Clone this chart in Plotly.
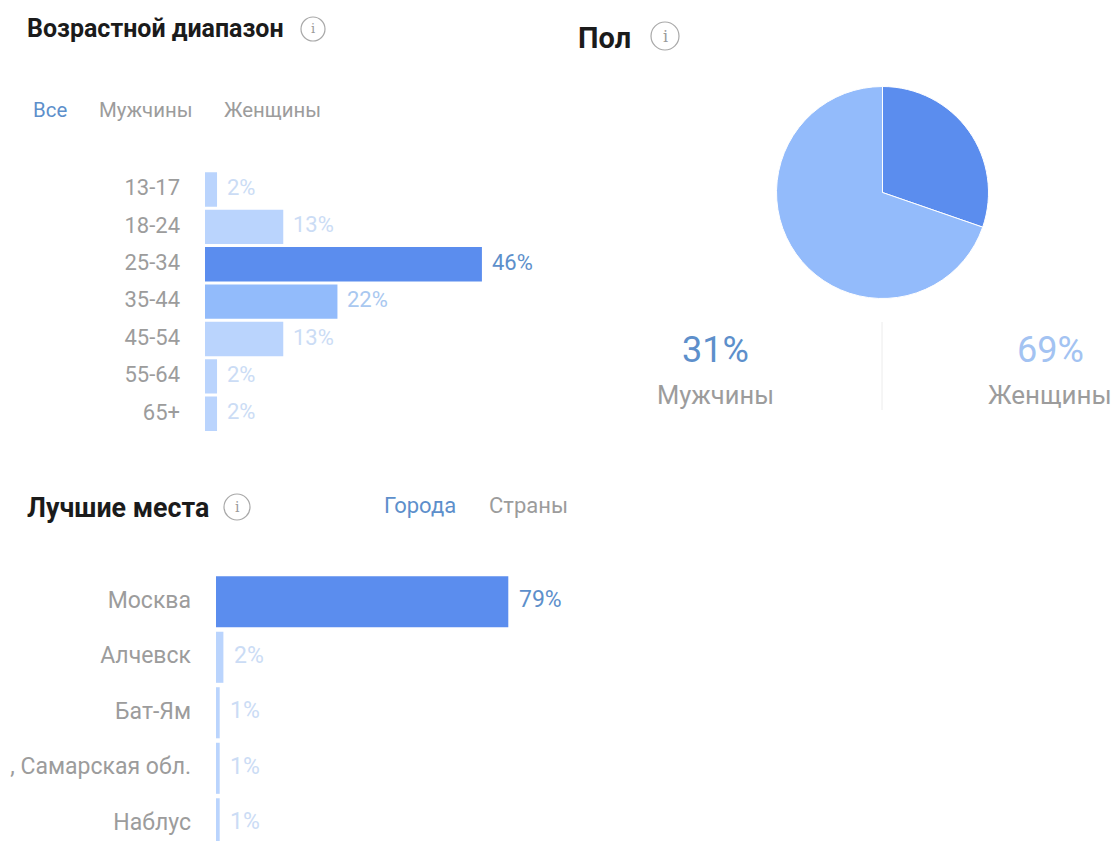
import plotly.graph_objects as go

age_groups = ["13-17", "18-24", "25-34", "35-44", "45-54", "55-64", "65+"]
age_values = [2, 13, 46, 22, 13, 2, 2]
cities = ["Москва", "Алчевск", "Бат-Ям", ", Самарская обл.", "Наблус"]
city_values = [79, 2, 1, 1, 1]
gender_labels = ["Мужчины", "Женщины"]
gender_values = [31, 69]
gender_slices = [30.3, 69.7]
age_tabs = ["Все", "Мужчины", "Женщины"]
place_tabs = ["Города", "Страны"]

W, H = 1114, 841
FONT = "Roboto"
DARK, MID, LIGHT, PIE_LIGHT = "#5b8dee", "#92bbfb", "#bad4fd", "#93bbfb"
BLUE_TXT, GREY = "#5d8fcb", "#9c9c9c"
TITLE = "#1b1b1b"


def bar_color(v):
    return DARK if v >= 40 else MID if v >= 20 else LIGHT


def txt_color(v):
    return BLUE_TXT if v >= 40 else "#a9c8f0" if v >= 20 else "#cbdcf5"


def px(x):
    return x / W


def py(y):
    return 1 - y / H


fig = go.Figure()
fig.add_trace(go.Bar(y=age_groups, x=age_values, orientation="h", xaxis="x", yaxis="y",
                     marker=dict(color=[bar_color(v) for v in age_values], line_width=0),
                     showlegend=False))
fig.add_trace(go.Bar(y=cities, x=city_values, orientation="h", xaxis="x2", yaxis="y2",
                     marker=dict(color=[bar_color(v) for v in city_values], line_width=0),
                     showlegend=False))
fig.add_trace(go.Pie(values=gender_slices, labels=gender_labels, sort=False, direction="clockwise",
                     rotation=0, textinfo="none", showlegend=False,
                     marker=dict(colors=[DARK, PIE_LIGHT], line=dict(color="white", width=1)),
                     domain=dict(x=[px(776.5), px(988.5)], y=[py(299), py(86)])))


def note(text, x, y, size, color, anchor="left", bold=False, family=FONT):
    if anchor == "left":
        x -= 2
    fig.add_annotation(text=f"<b>{text}</b>" if bold else text, x=px(x), y=py(y), xref="paper", yref="paper",
                       xanchor=anchor, yanchor="middle", showarrow=False,
                       font=dict(family=family, size=size, color=color))


def info(cx, cy, r):
    fig.add_shape(type="circle", xref="paper", yref="paper", x0=px(cx - r), x1=px(cx + r),
                  y0=py(cy + r), y1=py(cy - r), line=dict(color="#a8a8a8", width=1.2))
    note("i", cx, cy, int(r * 1.15), "#9a9a9a", "center", family="DejaVu Serif")


for g, v in zip(age_groups, age_values):
    fig.add_annotation(x=v, y=g, xref="x", yref="y", text=f"{v}%", showarrow=False, xanchor="left",
                       xshift=8, yshift=2, font=dict(family=FONT, size=22, color=txt_color(v)))
for c, v in zip(cities, city_values):
    fig.add_annotation(x=v, y=c, xref="x2", yref="y2", text=f"{v}%", showarrow=False, xanchor="left",
                       xshift=8.5, yshift=2, font=dict(family=FONT, size=23, color=txt_color(v)))

note("Возрастной диапазон", 27, 29, 25, TITLE, bold=True)
info(313, 29, 12)
note("Пол", 578, 38, 29, TITLE, bold=True)
info(665, 36, 14)
note("Лучшие места", 27, 508, 26.8, TITLE, bold=True)
info(237, 507, 13)

for t, x, c in zip(age_tabs, [33, 99, 224], [BLUE_TXT, GREY, GREY]):
    note(t, x, 110, 20.4, c)
for t, x, c in zip(place_tabs, [384, 489], [BLUE_TXT, GREY]):
    note(t, x, 505, 22, c)

note(f"{gender_values[0]}%", 715, 350, 36, BLUE_TXT, "center")
note(f"{gender_values[1]}%", 1050, 350, 36, "#a3c3f2", "center")
note(gender_labels[0], 715, 395, 25.5, GREY, "center")
note(gender_labels[1], 1050, 395, 26, GREY, "center")
fig.add_shape(type="line", xref="paper", yref="paper", x0=px(882), x1=px(882), y0=py(322), y1=py(410),
              line=dict(color="#ececec", width=1))

fig.update_layout(
    width=W, height=H, autosize=False, margin=dict(l=0, r=0, t=0, b=0),
    paper_bgcolor="white", plot_bgcolor="white", showlegend=False,
    xaxis=dict(domain=[px(205), px(566.2)], range=[0, 60], visible=False, anchor="y"),
    yaxis=dict(domain=[py(432.5), py(170.8)], type="category", range=[6.5, -0.5], showgrid=False,
               zeroline=False, showline=False, ticks="", ticklabelstandoff=24, ticklabelshift=2,
               tickfont=dict(family=FONT, size=22, color=GREY), anchor="x"),
    xaxis2=dict(domain=[px(216), px(586)], range=[0, 100], visible=False, anchor="y2"),
    yaxis2=dict(domain=[0, py(574)], type="category", range=[4.31, -0.5], showgrid=False,
                zeroline=False, showline=False, ticks="", ticklabelstandoff=24, ticklabelshift=2,
                tickfont=dict(family=FONT, size=23, color=GREY), anchor="x2"),
    bargap=0.08,
)

fig.write_html("out.html", config=dict(displayModeBar=False),
               post_script="document.body.style.margin='0';document.body.style.overflow='hidden';")
